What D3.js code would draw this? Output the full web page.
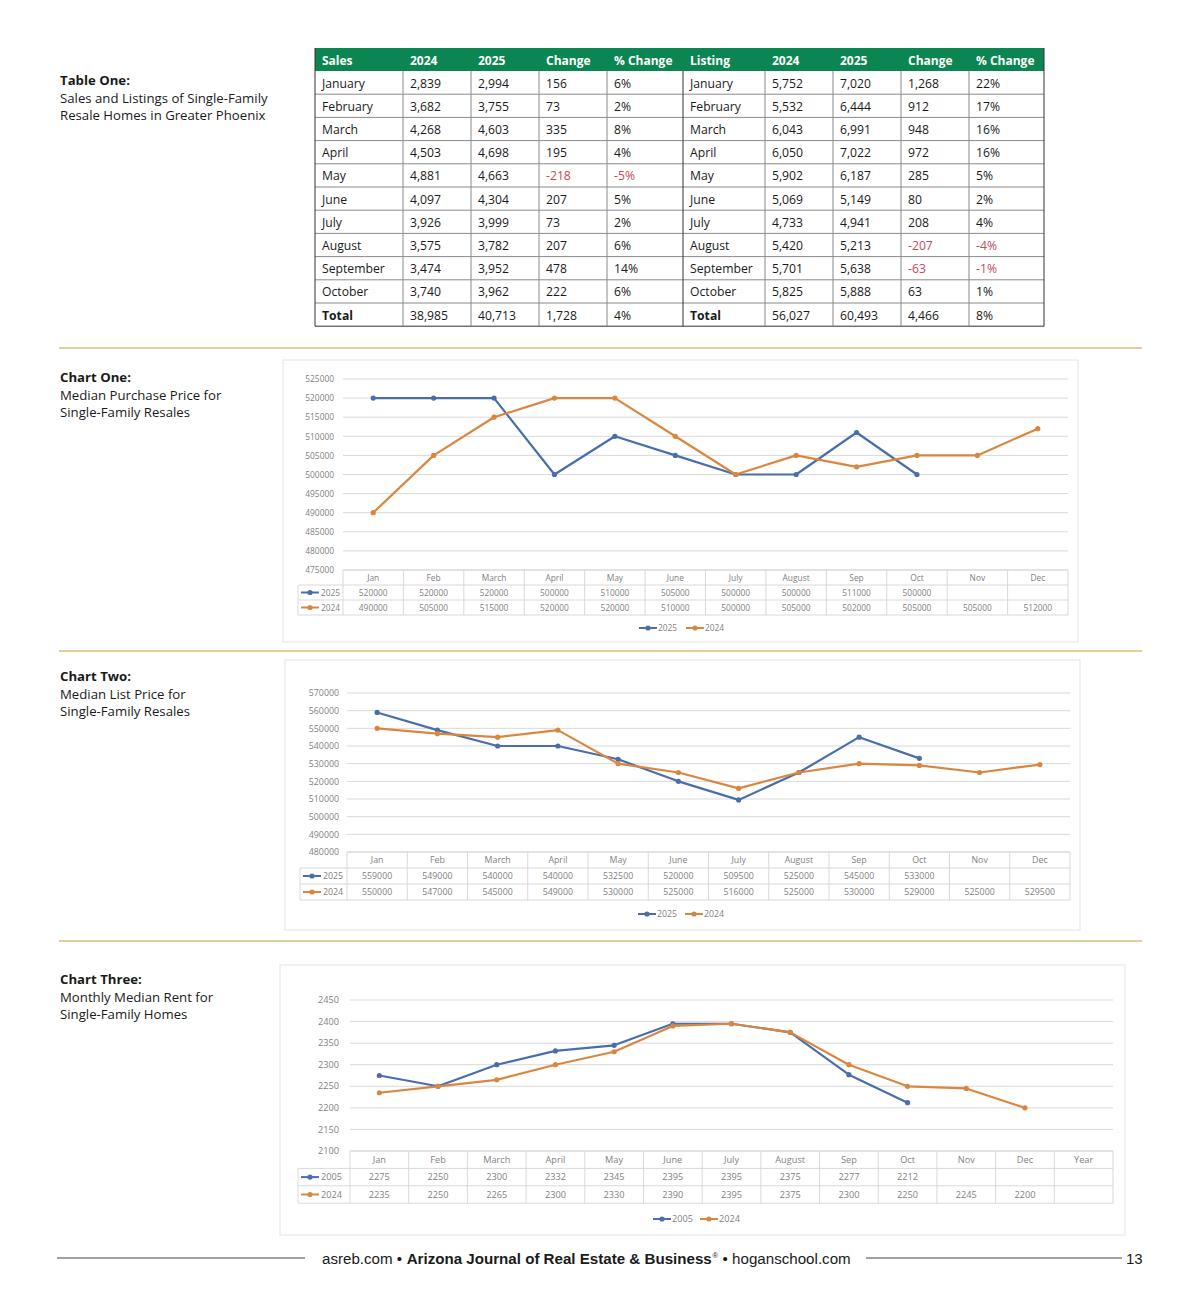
<!DOCTYPE html>
<html>
<head>
<meta charset="utf-8">
<script src="https://cdn.jsdelivr.net/npm/d3@7"></script>
<style>
  body { margin: 0; background: #fff; }
  svg { display: block; }
</style>
</head>
<body>
<script>
// ---- data ----
var tableMonths = ["January","February","March","April","May","June","July","August","September","October","Total"];
var sales2024 = [2839,3682,4268,4503,4881,4097,3926,3575,3474,3740,38985];
var sales2025 = [2994,3755,4603,4698,4663,4304,3999,3782,3952,3962,40713];
var salesChange = [156,73,335,195,-218,207,73,207,478,222,1728];
var salesPct = [6,2,8,4,-5,5,2,6,14,6,4];
var list2024 = [5752,5532,6043,6050,5902,5069,4733,5420,5701,5825,56027];
var list2025 = [7020,6444,6991,7022,6187,5149,4941,5213,5638,5888,60493];
var listChange = [1268,912,948,972,285,80,208,-207,-63,63,4466];
var listPct = [22,17,16,16,5,2,4,-4,-1,1,8];

var shortMonths = ["Jan","Feb","March","April","May","June","July","August","Sep","Oct","Nov","Dec"];
var rentCats = shortMonths.concat(["Year"]);

var purchase2025 = [520000,520000,520000,500000,510000,505000,500000,500000,511000,500000,null,null];
var purchase2024 = [490000,505000,515000,520000,520000,510000,500000,505000,502000,505000,505000,512000];
var purchaseTicks = d3.range(475000, 525001, 5000);

var list2025Price = [559000,549000,540000,540000,532500,520000,509500,525000,545000,533000,null,null];
var list2024Price = [550000,547000,545000,549000,530000,525000,516000,525000,530000,529000,525000,529500];
var listTicks = d3.range(480000, 570001, 10000);

var rent2005 = [2275,2250,2300,2332,2345,2395,2395,2375,2277,2212,null,null,null];
var rent2024 = [2235,2250,2265,2300,2330,2390,2395,2375,2300,2250,2245,2200,null];
var rentTicks = d3.range(2100, 2451, 50);

var BLUE = "#4a6eaa", ORANGE = "#d98740", GRID = "#d9d9d9", TXT = "#7f7f7f";
var PAGEFONT = "'Open Sans', sans-serif";
var CHARTFONT = "'Open Sans', sans-serif";

var svg = d3.select("body").append("svg")
    .attr("width", 1200)
    .attr("height", 1302);

// ---- side captions ----
function caption(y, bold, lines){
    var t = svg.append("text")
        .attr("x", 60).attr("y", y)
        .attr("font-family", PAGEFONT)
        .attr("font-size", 13.2)
        .attr("fill", "#1a1a1a");
    t.append("tspan").attr("x", 60).attr("font-weight", "bold").text(bold);
    lines.forEach(function(l){
        t.append("tspan").attr("x", 60).attr("dy", 17.5).text(l);
    });
}
caption(85, "Table One:", ["Sales and Listings of Single-Family", "Resale Homes in Greater Phoenix"]);
caption(382, "Chart One:", ["Median Purchase Price for", "Single-Family Resales"]);
caption(681, "Chart Two:", ["Median List Price for", "Single-Family Resales"]);
caption(984, "Chart Three:", ["Monthly Median Rent for", "Single-Family Homes"]);

// gold dividers
[348, 651, 941].forEach(function(y){
    svg.append("line")
        .attr("x1", 59).attr("x2", 1142)
        .attr("y1", y).attr("y2", y)
        .attr("stroke", "#d8bf76").attr("stroke-width", 1.6);
});

// ---- table one ----
var colEdges = [315,403,471,539,607,683,765,833,901,969,1044];
var headers = ["Sales","2024","2025","Change","% Change","Listing","2024","2025","Change","% Change"];
var tTop = 48, headH = 23, rowH = 23.2;
var fmt = function(v){ return d3.format(",")(v).replace("\u2212", "-"); };
var tbl = svg.append("g");

tbl.append("rect")
    .attr("x", colEdges[0]).attr("y", tTop)
    .attr("width", colEdges[10] - colEdges[0]).attr("height", headH)
    .attr("fill", "#0b8551");

headers.forEach(function(h, i){
    tbl.append("text")
        .attr("x", colEdges[i] + 7).attr("y", tTop + 16.5)
        .attr("font-family", PAGEFONT).attr("font-weight", "bold")
        .attr("font-size", 12).attr("fill", "#fff")
        .text(h);
});

var tableCols = [
    tableMonths, sales2024, sales2025, salesChange, salesPct,
    tableMonths, list2024, list2025, listChange, listPct
];
tableMonths.forEach(function(m, r){
    var y0 = tTop + headH + r * rowH;
    tableCols.forEach(function(col, c){
        var v = col[r], s, neg = false;
        if (c === 0 || c === 5) s = v;
        else if (c === 4 || c === 9) { s = v + "%"; neg = v < 0; }
        else { s = fmt(v); neg = v < 0; }
        tbl.append("text")
            .attr("x", colEdges[c] + 7).attr("y", y0 + 16.5)
            .attr("font-family", PAGEFONT)
            .attr("font-size", 12.2)
            .attr("font-weight", (r === tableMonths.length - 1 && (c === 0 || c === 5)) ? "bold" : "normal")
            .attr("fill", neg ? "#c5485a" : "#1a1a1a")
            .text(s);
    });
    tbl.append("line")
        .attr("x1", colEdges[0]).attr("x2", colEdges[10])
        .attr("y1", y0 + rowH).attr("y2", y0 + rowH)
        .attr("stroke", r === tableMonths.length - 1 ? "#333" : "#8a8a8a").attr("stroke-width", 1);
});
var tBottom = tTop + headH + tableMonths.length * rowH;
colEdges.forEach(function(x, i){
    tbl.append("line")
        .attr("x1", x).attr("x2", x)
        .attr("y1", (i === 0 || i === 10) ? tTop : tTop + headH).attr("y2", tBottom)
        .attr("stroke", (i === 0 || i === 10 || i === 5) ? "#333" : "#8a8a8a").attr("stroke-width", 1);
});

// ---- line chart with data table ----
function drawChart(o){
    var g = svg.append("g");

    g.append("rect")
        .attr("x", o.frame[0]).attr("y", o.frame[1])
        .attr("width", o.frame[2]).attr("height", o.frame[3])
        .attr("fill", "#fff").attr("stroke", "#e3e3e3");

    var x = d3.scaleBand().domain(o.cats).range([o.left, o.right]);
    var y = d3.scaleLinear().domain(d3.extent(o.ticks)).range([o.bottom, o.top]);
    var cx = function(i){ return x(o.cats[i]) + x.bandwidth() / 2; };

    // gridlines
    g.selectAll(".grid").data(o.ticks).enter().append("line")
        .attr("x1", o.left).attr("x2", o.right)
        .attr("y1", function(d){ return y(d); }).attr("y2", function(d){ return y(d); })
        .attr("stroke", GRID);

    g.selectAll(".ytick").data(o.ticks).enter().append("text")
        .attr("x", o.left - o.labelGap).attr("y", function(d){ return y(d) + 3.2; })
        .attr("text-anchor", "end")
        .attr("font-family", CHARTFONT).attr("font-size", o.fs)
        .attr("fill", TXT)
        .text(function(d){ return d; });

    // data table below plot
    var rh = o.rowH;
    var top = o.bottom;
    g.selectAll(".hcell").data(o.cats).enter().append("text")
        .attr("x", function(d){ return x(d) + x.bandwidth() / 2; })
        .attr("y", top + rh / 2 + 3.2)
        .attr("text-anchor", "middle")
        .attr("font-family", CHARTFONT).attr("font-size", o.fs)
        .attr("fill", TXT)
        .text(function(d){ return d; });

    o.series.forEach(function(s, si){
        var ry = top + rh * (si + 1);
        g.selectAll(".vcell" + si).data(s.values).enter().append("text")
            .attr("x", function(d, i){ return cx(i); })
            .attr("y", ry + rh / 2 + 3.2)
            .attr("text-anchor", "middle")
            .attr("font-family", CHARTFONT).attr("font-size", o.fs)
            .attr("fill", TXT)
            .text(function(d){ return d == null ? "" : d; });
        // series key in the left cell
        var kx = o.keyLeft + 3, ky = ry + rh / 2;
        g.append("line").attr("x1", kx).attr("x2", kx + 18).attr("y1", ky).attr("y2", ky)
            .attr("stroke", s.color).attr("stroke-width", 2);
        g.append("circle").attr("cx", kx + 9).attr("cy", ky).attr("r", 2.6).attr("fill", s.color);
        g.append("text").attr("x", kx + 20).attr("y", ky + 3.2)
            .attr("font-family", CHARTFONT).attr("font-size", o.fs).attr("fill", TXT)
            .text(s.name);
    });
    // table grid lines
    for (var r = 0; r <= 3; r++) {
        g.append("line")
            .attr("x1", r === 0 ? o.left : o.keyLeft).attr("x2", o.right)
            .attr("y1", top + r * rh).attr("y2", top + r * rh)
            .attr("stroke", GRID);
    }
    g.append("line").attr("x1", o.keyLeft).attr("x2", o.keyLeft)
        .attr("y1", top + rh).attr("y2", top + 3 * rh).attr("stroke", GRID);
    x.domain().forEach(function(d){
        g.append("line").attr("x1", x(d)).attr("x2", x(d))
            .attr("y1", top).attr("y2", top + 3 * rh).attr("stroke", GRID);
    });
    g.append("line").attr("x1", o.right).attr("x2", o.right)
        .attr("y1", top).attr("y2", top + 3 * rh).attr("stroke", GRID);

    // lines + markers
    var line = d3.line()
        .defined(function(d){ return d != null; })
        .x(function(d, i){ return cx(i); })
        .y(function(d){ return y(d); });
    o.series.forEach(function(s){
        g.append("path").datum(s.values)
            .attr("d", line)
            .attr("fill", "none").attr("stroke", s.color).attr("stroke-width", 2.2)
            .attr("stroke-linejoin", "round");
        g.selectAll(null).data(s.values).enter()
            .append("circle")
            .filter(function(d){ return d != null; })
            .attr("cx", function(d, i){ return cx(i); })
            .attr("cy", function(d){ return y(d); })
            .attr("r", 2.6).attr("fill", s.color);
    });

    // legend
    var lg = g.append("g").attr("transform", "translate(" + (o.legendX) + "," + o.legendY + ")");
    o.series.forEach(function(s, i){
        var ox = i * 47;
        lg.append("line").attr("x1", ox).attr("x2", ox + 18).attr("y1", 0).attr("y2", 0)
            .attr("stroke", s.color).attr("stroke-width", 2);
        lg.append("circle").attr("cx", ox + 9).attr("cy", 0).attr("r", 2.6).attr("fill", s.color);
        lg.append("text").attr("x", ox + 19).attr("y", 3.2)
            .attr("font-family", CHARTFONT).attr("font-size", o.fs).attr("fill", TXT)
            .text(s.name);
    });
}

drawChart({
    frame: [283, 360, 795, 282],
    left: 343, right: 1068, top: 379, bottom: 570,
    ticks: purchaseTicks, cats: shortMonths, rowH: 15, keyLeft: 298,
    labelGap: 9, fs: 8.4, legendX: 639, legendY: 628,
    series: [
        {name: "2025", values: purchase2025, color: BLUE},
        {name: "2024", values: purchase2024, color: ORANGE}
    ]
});

drawChart({
    frame: [285, 660, 795, 270],
    left: 347, right: 1070, top: 693, bottom: 852,
    ticks: listTicks, cats: shortMonths, rowH: 16, keyLeft: 300,
    labelGap: 8, fs: 8.8, legendX: 638, legendY: 914,
    series: [
        {name: "2025", values: list2025Price, color: BLUE},
        {name: "2024", values: list2024Price, color: ORANGE}
    ]
});

drawChart({
    frame: [280, 965, 845, 270],
    left: 350, right: 1113, top: 1000, bottom: 1151,
    ticks: rentTicks, cats: rentCats, rowH: 17.4, keyLeft: 298,
    labelGap: 11, fs: 9.2, legendX: 653, legendY: 1219,
    series: [
        {name: "2005", values: rent2005, color: BLUE},
        {name: "2024", values: rent2024, color: ORANGE}
    ]
});

// ---- footer ----
svg.append("line").attr("x1", 57).attr("x2", 305).attr("y1", 1258).attr("y2", 1258)
    .attr("stroke", "#444").attr("stroke-width", 1);
svg.append("line").attr("x1", 866).attr("x2", 1122).attr("y1", 1258).attr("y2", 1258)
    .attr("stroke", "#444").attr("stroke-width", 1);
var footFont = "'Liberation Sans', sans-serif";
// pieces are measured and laid end to end, then the size is fitted to the span
var footParts = [
    {t: "asreb.com \u2022", w: "normal", s: 1, dy: 0, gap: 0.3},
    {t: "Arizona Journal of Real Estate & Business", w: "bold", s: 1, dy: 0, gap: 0.05},
    {t: "\u00AE", w: "normal", s: 0.5, dy: -6, gap: 0.3},
    {t: "\u2022 hoganschool.com", w: "normal", s: 1, dy: 0, gap: 0}
];
var footSpan = 529, footX = 322, footY = 1264;
function layFooter(fs){
    svg.selectAll(".foot").remove();
    var xx = footX;
    footParts.forEach(function(p){
        var el = svg.append("text").attr("class", "foot")
            .attr("x", xx).attr("y", footY + p.dy)
            .attr("font-family", footFont).attr("font-weight", p.w)
            .attr("font-size", fs * p.s).attr("fill", "#1a1a1a")
            .text(p.t);
        xx += el.node().getComputedTextLength() + p.gap * fs;
    });
    return xx - footX;
}
var natural = layFooter(16);
layFooter(16 * footSpan / natural);
svg.append("text").attr("x", 1126).attr("y", 1264)
    .attr("font-family", footFont)
    .attr("font-size", 15).attr("fill", "#1a1a1a")
    .text("13");
</script>
</body>
</html>
